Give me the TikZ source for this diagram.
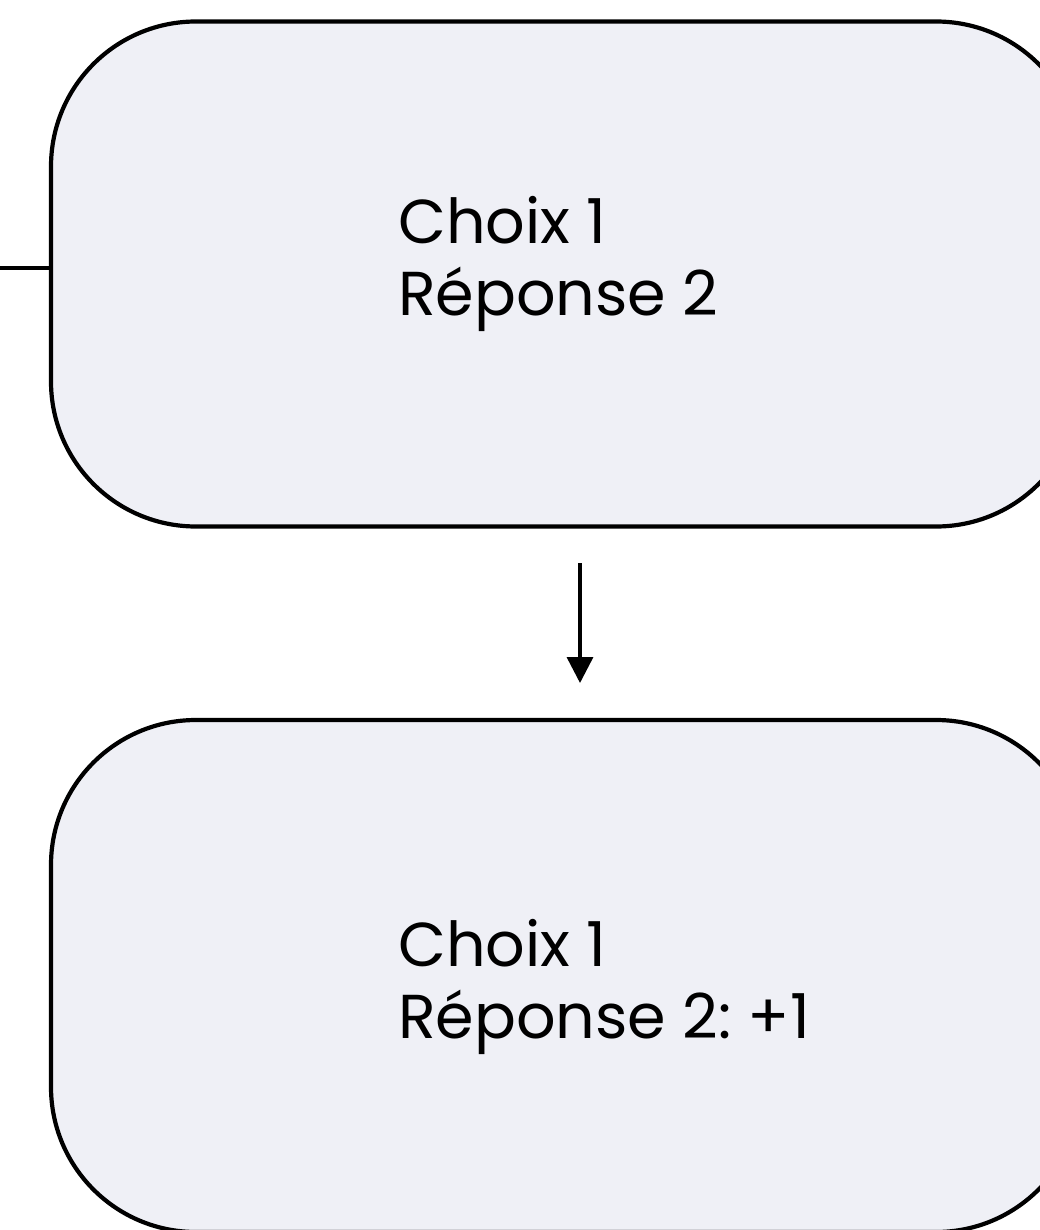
\documentclass[tikz,border=0pt]{standalone}
\usepackage{fontspec}
\setmainfont{Poppins}
\usetikzlibrary{arrows.meta}
\definecolor{boxfill}{HTML}{EFF0F6}
\tikzset{
  choicebox/.style={draw=black, line width=4.2pt, fill=boxfill, rounded corners=145pt,
    minimum width=1030pt, inner sep=0pt},
  label/.style={anchor=base west, inner sep=0pt, font=\fontsize{62}{72}\selectfont},
  conn/.style={line width=3.5pt},
  arr/.style={line width=3.5pt, -{Triangle[length=26pt,width=26pt]}}
}
\begin{document}
\begin{tikzpicture}[x=1pt,y=-1pt]
\useasboundingbox (0,0) rectangle (1040,1230);
\clip (0,0) rectangle (1040,1230);
\fill[white] (0,0) rectangle (1040,1230);
\node[choicebox, minimum height=505pt] (b1) at (566,274) {};
\node[choicebox, minimum height=512pt] (b2) at (566,976) {};
\node[label] (t1a) at (398,244) {Choix 1};
\node[label] (t1b) at (398,316) {Réponse 2};
\node[label] (t2a) at (398,966) {Choix 1};
\node[label] (t2b) at (398,1038) {Réponse 2:\hspace{-6pt} +1};
\coordinate (L) at (0,268);
\draw[conn] (L) -- (L -| b1.west);
\coordinate (a1) at (580,563);
\coordinate (a2) at (580,683);
\draw[arr] (a1) -- (a2);
\end{tikzpicture}
\end{document}
